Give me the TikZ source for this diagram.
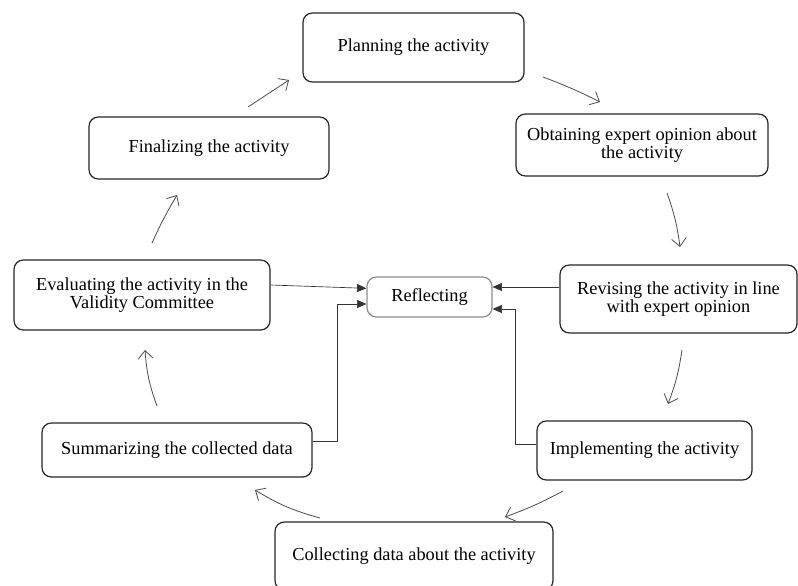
\documentclass[tikz,border=0pt]{standalone}
\usepackage{fontspec}
\setmainfont{Liberation Serif}
\usetikzlibrary{arrows.meta}
\begin{document}
\begin{tikzpicture}[x=0.75pt,y=-0.75pt,
  box/.style={draw=black!85, line width=0.9pt, rounded corners=7pt, align=center, inner sep=0pt, font=\fontsize{13.75}{14}\selectfont},
  sz/.style 2 args={minimum width=#1*0.75pt, minimum height=#2*0.75pt},
  flow/.style={draw=black!70, line width=0.6pt, -{Straight Barb[length=6pt,width=11pt]}},
  link/.style={draw=black!80, line width=0.5pt, -{Triangle[length=7pt,width=6pt]}}]
\fill[white] (0,0) rectangle (798,585);
\useasboundingbox (0,0) rectangle (798,585);

\node[box, sz={221}{69}] (plan) at (413.5,47.5) {Planning the activity};
\node[box, sz={252}{62}] (obtain) at (642,145) {Obtaining expert opinion about\\the activity};
\node[box, sz={237}{68}] (revise) at (678.5,299) {Revising the activity in line\\with expert opinion};
\node[box, draw=black!45, sz={125}{40}] (reflect) at (429.5,297) {Reflecting};
\node[box, sz={256}{70}] (eval) at (142,295) {Evaluating the activity in the\\Validity Committee};
\node[box, sz={240}{62}] (final) at (209,148) {Finalizing the activity};
\node[box, sz={270}{54}] (summ) at (177,450) {Summarizing the collected data};
\node[box, sz={215}{59}] (impl) at (644.5,450.5) {Implementing the activity};
\node[box, sz={278}{68}] (coll) at (414,556) {Collecting data about the activity};

% cycle arrows
\coordinate (a1s) at (248,107); \coordinate (a1e) at (289,80);
\coordinate (a2s) at (543,77);  \coordinate (a2e) at (600,102);
\coordinate (a3s) at (667,193); \coordinate (a3e) at (680,247);
\coordinate (a4s) at (682,350); \coordinate (a4e) at (668,404);
\coordinate (a5s) at (563,491); \coordinate (a5e) at (505,517);
\coordinate (a6s) at (320,518); \coordinate (a6e) at (255,490);
\coordinate (a7s) at (157,406); \coordinate (a7e) at (145,350);
\coordinate (a8s) at (152,243); \coordinate (a8e) at (177,195);
\draw[flow] (a1s) to (a1e);
\draw[flow] (a2s) to[bend left=3] (a2e);
\draw[flow] (a3s) to[bend left=6] (a3e);
\draw[flow] (a4s) to[bend left=6] (a4e);
\draw[flow] (a5s) to[bend left=4] (a5e);
\draw[flow] (a6s) to[bend left=8] (a6e);
\draw[flow] (a7s) to[bend left=8] (a7e);
\draw[flow] (a8s) to[bend left=3] (a8e);

% links to Reflecting
\draw[link] ([yshift=7.5pt]eval.east) -- ([yshift=6.5pt]reflect.west);
\draw[link] ([yshift=6.75pt]summ.east) -- ++(25,0) |- ([yshift=-5.25pt]reflect.west);
\coordinate (r1) at ([yshift=9pt]revise.west);
\draw[link] (r1) -- (r1 -| reflect.east);
\draw[link] ([yshift=4.9pt]impl.west) -- ++(-21,0) |- ([yshift=-9pt]reflect.east);
\end{tikzpicture}
\end{document}
